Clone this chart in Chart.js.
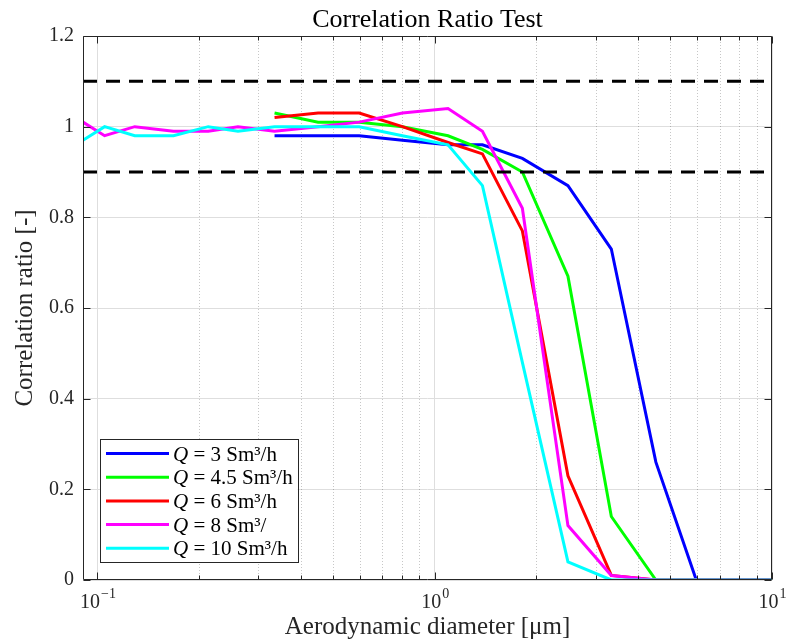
<!DOCTYPE html>
<html>
<head>
<meta charset="utf-8">
<script src="https://cdn.jsdelivr.net/npm/chart.js@4.4.1/dist/chart.umd.min.js"></script>
<style>
html, body { margin: 0; padding: 0; background: #fff; }
#wrap { width: 787px; height: 642px; position: relative; }
</style>
</head>
<body>
<div id="wrap"><canvas id="ratioChart"></canvas></div>
<script>
const SERIF = '"Liberation Serif", "DejaVu Serif", serif';

// aerodynamic diameter of each size channel [um]
const diameters = [0.0906, 0.105, 0.129, 0.168, 0.213, 0.261, 0.335, 0.451, 0.597, 0.802,
                   1.095, 1.385, 1.819, 2.483, 3.339, 4.526, 5.963, 7.8, 10];

// correlation ratio per flow rate (null = not measured)
const q3  = [null, null, null, null, null, null, 0.98, 0.98, 0.98, 0.97, 0.96, 0.96, 0.93, 0.87, 0.73, 0.26, 0, 0, 0];
const q45 = [null, null, null, null, null, null, 1.03, 1.01, 1.01, 1.00, 0.98, 0.95, 0.90, 0.67, 0.14, 0, 0, 0, 0];
const q6  = [null, null, null, null, null, null, 1.02, 1.03, 1.03, 1.00, 0.965, 0.94, 0.77, 0.23, 0.01, 0, 0, 0, 0];
const q8  = [1.01, 0.98, 1.00, 0.99, 0.99, 1.00, 0.99, 1.00, 1.01, 1.03, 1.04, 0.99, 0.82, 0.12, 0.01, 0, 0, 0, 0];
const q10 = [0.97, 1.00, 0.98, 0.98, 1.00, 0.99, 1.00, 1.00, 1.00, 0.98, 0.96, 0.87, 0.48, 0.04, 0, 0, 0, 0, 0];

const legendLabels = ['Q = 3 Sm³/h', 'Q = 4.5 Sm³/h', 'Q = 6 Sm³/h', 'Q = 8 Sm³/', 'Q = 10 Sm³/h'];
const seriesColors = ['#0000ff', '#00ff00', '#ff0000', '#ff00ff', '#00ffff'];

// acceptance band
const limits = [1.1, 0.9];

// axis ticks
const majorTicks = [0.1, 1, 10];
const majorExp = ['−1', '0', '1'];
const minorTicks = [0.2, 0.3, 0.4, 0.5, 0.6, 0.7, 0.8, 0.9, 2, 3, 4, 5, 6, 7, 8, 9];
const yTicks = [0, 0.2, 0.4, 0.6, 0.8, 1, 1.2];

const toPoints = ys => diameters.map((d, i) => ({x: d, y: ys[i]})).filter(p => p.y !== null);

const seriesSets = [q3, q45, q6, q8, q10].map((ys, i) => ({
    label: legendLabels[i],
    data: toPoints(ys),
    borderColor: seriesColors[i],
    borderWidth: 3,
    pointRadius: 0,
    tension: 0,
    fill: false
}));
const limitSets = limits.map(v => ({
    label: 'limit ' + v,
    data: [{x: diameters[0], y: v}, {x: diameters[diameters.length - 1], y: v}],
    borderColor: '#000',
    borderWidth: 3,
    borderDash: [14, 9],
    pointRadius: 0
}));

// matlab-like frame: dotted minor grid, box, inward ticks, tick labels, legend, title
const matlabLook = {
    id: 'matlabLook',
    beforeDatasetsDraw(chart) {
        const {ctx, chartArea: a, scales: {x}} = chart;
        ctx.save();
        ctx.strokeStyle = 'rgba(0,0,0,0.22)';
        ctx.lineWidth = 1;
        ctx.setLineDash([1, 2]);
        minorTicks.forEach(v => {
            const px = Math.round(x.getPixelForValue(v)) + 0.5;
            ctx.beginPath();
            ctx.moveTo(px, a.top);
            ctx.lineTo(px, a.bottom);
            ctx.stroke();
        });
        ctx.restore();
    },
    afterDatasetsDraw(chart) {
        const {ctx, chartArea: a, scales: {x, y}} = chart;
        ctx.save();
        ctx.strokeStyle = '#262626';
        ctx.lineWidth = 1;
        const L = Math.round(a.left) + 0.5, R = Math.round(a.right) - 0.5;
        const T = Math.round(a.top) + 0.5, B = Math.round(a.bottom) - 0.5;
        ctx.beginPath();
        ctx.rect(L, T, R - L, B - T);
        yTicks.forEach(v => {
            const py = Math.round(y.getPixelForValue(v)) + 0.5;
            ctx.moveTo(L, py); ctx.lineTo(L + 7, py);
            ctx.moveTo(R, py); ctx.lineTo(R - 7, py);
        });
        majorTicks.forEach(v => {
            const px = Math.round(x.getPixelForValue(v)) + 0.5;
            ctx.moveTo(px, B); ctx.lineTo(px, B - 7);
            ctx.moveTo(px, T); ctx.lineTo(px, T + 7);
        });
        minorTicks.forEach(v => {
            const px = Math.round(x.getPixelForValue(v)) + 0.5;
            ctx.moveTo(px, B); ctx.lineTo(px, B - 4);
            ctx.moveTo(px, T); ctx.lineTo(px, T + 4);
        });
        ctx.stroke();
        ctx.restore();
    },
    afterDraw(chart) {
        const {ctx, chartArea: a, scales: {x}} = chart;
        ctx.save();
        ctx.fillStyle = '#262626';
        ctx.textBaseline = 'alphabetic';

        // x tick labels 10^n
        majorTicks.forEach((v, i) => {
            const px = x.getPixelForValue(v);
            ctx.font = `20px ${SERIF}`;
            const wb = ctx.measureText('10').width;
            ctx.font = `14px ${SERIF}`;
            const we = ctx.measureText(majorExp[i]).width;
            const x0 = px - (wb + we) / 2;
            ctx.font = `20px ${SERIF}`;
            ctx.textAlign = 'left';
            ctx.fillText('10', x0, a.bottom + 28);
            ctx.font = `14px ${SERIF}`;
            ctx.fillText(majorExp[i], x0 + wb + 1, a.bottom + 18);
        });

        // title
        ctx.fillStyle = '#000';
        ctx.font = `26px ${SERIF}`;
        ctx.textAlign = 'center';
        ctx.fillText('Correlation Ratio Test', (a.left + a.right) / 2, 27);

        // legend
        const rest = legendLabels.map(s => s.slice(1));
        ctx.font = `italic 21px ${SERIF}`;
        const wq = ctx.measureText('Q').width;
        ctx.font = `21px ${SERIF}`;
        const maxW = Math.max(...rest.map(s => ctx.measureText(s).width)) + wq;
        const bx = a.left + 17, bh = 123, by = a.bottom - 18 - bh;
        const bw = 73 + maxW + 5;
        ctx.fillStyle = '#fff';
        ctx.fillRect(bx, by, bw, bh);
        ctx.strokeStyle = '#262626';
        ctx.lineWidth = 1;
        ctx.strokeRect(Math.round(bx) + 0.5, Math.round(by) + 0.5, Math.round(bw), bh);
        legendLabels.forEach((s, i) => {
            const cy = by + 14.5 + i * 23.7;
            ctx.strokeStyle = seriesColors[i];
            ctx.lineWidth = 3;
            ctx.beginPath();
            ctx.moveTo(bx + 6, cy);
            ctx.lineTo(bx + 69, cy);
            ctx.stroke();
            ctx.fillStyle = '#000';
            ctx.textAlign = 'left';
            ctx.font = `italic 21px ${SERIF}`;
            ctx.fillText('Q', bx + 73, cy + 7);
            ctx.font = `21px ${SERIF}`;
            ctx.fillText(rest[i], bx + 73 + wq, cy + 7);
        });
        ctx.restore();
    }
};

new Chart(document.getElementById('ratioChart'), {
    type: 'line',
    data: {
        // dataset 0 is drawn on top
        datasets: [...limitSets, ...seriesSets.slice().reverse()]
    },
    options: {
        responsive: true,
        maintainAspectRatio: false,
        animation: false,
        layout: { padding: { top: 36, right: 15, left: 0, bottom: 0 } },
        plugins: {
            legend: { display: false },
            tooltip: { enabled: false },
            title: { display: false }
        },
        scales: {
            x: {
                type: 'logarithmic',
                min: diameters[0],
                max: 10,
                afterBuildTicks: s => { s.ticks = majorTicks.map(v => ({value: v, major: true})); },
                afterFit: s => { s.height = 62; },
                grid: { color: '#dedede', drawTicks: false },
                border: { display: false },
                ticks: { display: false },
                title: {
                    display: true,
                    text: 'Aerodynamic diameter [μm]',
                    color: '#262626',
                    font: { family: SERIF, size: 25 },
                    padding: { top: 0, bottom: 0 }
                }
            },
            y: {
                min: 0,
                max: 1.2,
                afterBuildTicks: s => { s.ticks = yTicks.map(v => ({value: v})); },
                afterFit: s => { s.width = 83; },
                grid: { color: '#dedede', drawTicks: false },
                border: { display: false },
                ticks: {
                    color: '#262626',
                    padding: 9,
                    font: { family: SERIF, size: 20 },
                    callback: v => String(Math.round(v * 10) / 10)
                },
                title: {
                    display: true,
                    text: 'Correlation ratio [-]',
                    color: '#262626',
                    font: { family: SERIF, size: 25 },
                    padding: { top: 10, bottom: 0 }
                }
            }
        }
    },
    plugins: [matlabLook]
});
</script>
</body>
</html>
